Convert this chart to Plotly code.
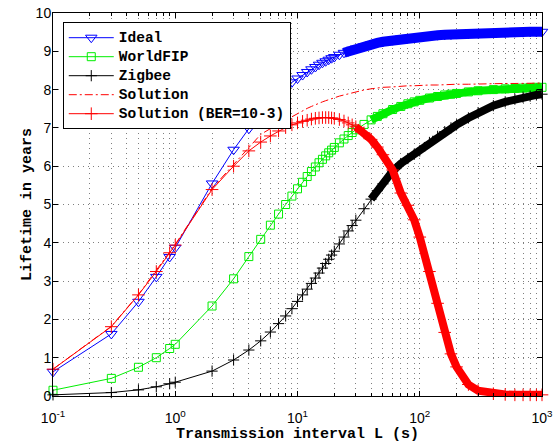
import plotly.graph_objects as go

# Sample points (transmission interval L, seconds)
L = [0.1, 0.3, 0.5, 0.7, 0.9, 1, 2, 3, 4, 5, 6, 7, 8, 9, 10, 11, 12, 13, 14, 15,
     16, 17, 18, 19, 20, 22, 24, 26, 28, 30, 35, 40, 45, 50, 60, 70, 80, 90, 100,
     120, 140, 160, 180, 200, 250, 300, 400, 500, 600, 700, 800, 900, 1000]

ideal = [0.63, 1.62, 2.46, 3.11, 3.63, 3.87, 5.55, 6.43, 6.98, 7.38, 7.66, 7.88, 8.05, 8.19,
         8.29, 8.38, 8.46, 8.53, 8.59, 8.65, 8.70, 8.74, 8.78, 8.82, 8.85, 8.91, 8.96, 9.00,
         9.04, 9.07, 9.13, 9.18, 9.22, 9.25, 9.29, 9.33, 9.35, 9.37, 9.38, 9.41, 9.42, 9.43,
         9.44, 9.45, 9.46, 9.47, 9.48, 9.49, 9.50, 9.50, 9.51, 9.51, 9.51]

worldfip = [0.15, 0.46, 0.75, 1.00, 1.24, 1.35, 2.35, 3.06, 3.64, 4.09, 4.46, 4.75, 5.00, 5.22,
            5.41, 5.58, 5.73, 5.86, 5.98, 6.09, 6.18, 6.27, 6.35, 6.42, 6.49, 6.61, 6.71, 6.80,
            6.88, 6.95, 7.09, 7.21, 7.30, 7.37, 7.48, 7.56, 7.63, 7.68, 7.72, 7.78, 7.82, 7.86,
            7.88, 7.90, 7.94, 7.97, 8.00, 8.02, 8.03, 8.04, 8.05, 8.06, 8.06]

zigbee = [0.03, 0.09, 0.16, 0.24, 0.32, 0.36, 0.65, 0.94, 1.20, 1.44, 1.67, 1.89, 2.09, 2.28,
          2.47, 2.64, 2.79, 2.94, 3.08, 3.21, 3.34, 3.46, 3.57, 3.68, 3.78, 3.97, 4.15, 4.31,
          4.45, 4.59, 4.89, 5.14, 5.36, 5.54, 5.87, 6.07, 6.20, 6.31, 6.40, 6.62, 6.78, 6.90,
          7.00, 7.08, 7.26, 7.40, 7.58, 7.68, 7.75, 7.80, 7.83, 7.86, 7.88]

solution = [0.70, 1.82, 2.65, 3.27, 3.76, 3.96, 5.42, 6.05, 6.50, 6.83, 6.98, 7.10, 7.20, 7.28,
            7.38, 7.45, 7.51, 7.56, 7.61, 7.65, 7.68, 7.71, 7.74, 7.77, 7.79, 7.83, 7.86, 7.89,
            7.92, 7.95, 7.99, 8.02, 8.04, 8.06, 8.07, 8.09, 8.10, 8.10, 8.11, 8.12, 8.12, 8.13,
            8.13, 8.14, 8.14, 8.15, 8.15, 8.16, 8.16, 8.16, 8.17, 8.17, 8.17]

solution_ber = [0.70, 1.81, 2.64, 3.25, 3.74, 3.94, 5.39, 6.00, 6.40, 6.63, 6.79, 6.92, 7.01, 7.08,
                7.13, 7.17, 7.20, 7.23, 7.25, 7.26, 7.27, 7.27, 7.27, 7.26, 7.25, 7.22, 7.18, 7.13,
                7.08, 7.03, 6.87, 6.70, 6.50, 6.30, 5.90, 5.30, 4.98, 4.60, 4.15, 3.25, 2.42, 1.66,
                1.10, 0.76, 0.30, 0.14, 0.06, 0.04, 0.03, 0.03, 0.03, 0.03, 0.03]

x_tickvals = [0.1, 1, 10, 100, 1000]
x_ticktext = ["10<sup>-1</sup>", "10<sup>0</sup>", "10<sup>1</sup>", "10<sup>2</sup>", "10<sup>3</sup>"]
y_tickvals = list(range(0, 11))
minor_vals = [m * 10.0 ** e for e in range(-1, 3) for m in range(2, 10)]

LEG_SPAN = '<span style="font-size:14.5px">{}</span>'

series = [
    ("Ideal", ideal, "#0000ff", "triangle-down-open", 10, 24, 10),
    ("WorldFIP", worldfip, "#00ee00", "square-open", 8, 40, 8),
    ("Zigbee", zigbee, "#000000", "cross-thin-open", 8, 38, 8),
    ("Solution (BER=10-3)", solution_ber, "#ff0000", "cross-thin-open", 9, 30, 8),
]

fig = go.Figure()

def add_series(name, ys, color, symbol, msize, band_start, band_w):
    fig.add_trace(go.Scatter(
        x=L, y=ys, name=LEG_SPAN.format(name), mode="lines+markers",
        line=dict(color=color, width=1),
        marker=dict(symbol=symbol, size=msize, color=color,
                    line=dict(color=color, width=1)),
        cliponaxis=False,
    ))
    idx = [i for i, v in enumerate(L) if v >= band_start]
    fig.add_trace(go.Scatter(
        x=[L[i] for i in idx], y=[ys[i] for i in idx], mode="lines",
        line=dict(color=color, width=band_w), showlegend=False, hoverinfo="skip",
    ))

for s in series[:3]:
    add_series(*s)

fig.add_trace(go.Scatter(
    x=L, y=solution, name=LEG_SPAN.format("Solution"), mode="lines",
    line=dict(color="#ff0000", width=1, dash="8px,3px,2px,3px"),
))

add_series(*series[3])

grid_col = "rgba(0,0,0,0.5)"
grid_dash = "1px,4px"
mono = "Liberation Mono, Courier New, monospace"
sans = "Liberation Sans, Arial, sans-serif"

fig.update_layout(
    template="none",
    width=557, height=443,
    margin=dict(l=53, r=15, t=13, b=47, autoexpand=False),
    paper_bgcolor="white", plot_bgcolor="white",
    showlegend=True,
    legend=dict(
        x=0.02, y=0.976, xanchor="left", yanchor="top",
        bgcolor="white", bordercolor="black", borderwidth=1,
        font=dict(family=mono, size=10, color="black", weight="bold"),
        itemwidth=45, traceorder="normal",
    ),
    font=dict(family=sans, size=14, color="black"),
)

fig.update_xaxes(
    type="log", range=[-1, 3], automargin=False,
    tickmode="array", tickvals=x_tickvals, ticktext=x_ticktext,
    ticks="inside", ticklen=5, tickcolor="black", tickwidth=1,
    showline=True, linecolor="black", linewidth=1, mirror="ticks",
    showgrid=True, gridcolor=grid_col, griddash=grid_dash, gridwidth=1,
    zeroline=False, ticklabelstandoff=9,
    tickfont=dict(family=sans, size=14),
    minor=dict(tickmode="array", tickvals=minor_vals, ticks="inside", ticklen=3,
               tickcolor="black", tickwidth=1,
               showgrid=True, gridcolor=grid_col, griddash=grid_dash, gridwidth=1),
    title=dict(text="Transmission interval L (s)", standoff=0,
               font=dict(family=mono, size=15, weight="bold")),
)

fig.update_yaxes(
    range=[0, 10], automargin=False,
    tickmode="array", tickvals=y_tickvals,
    ticks="inside", ticklen=5, tickcolor="black", tickwidth=1,
    showline=True, linecolor="black", linewidth=1, mirror="ticks",
    showgrid=True, gridcolor=grid_col, griddash=grid_dash, gridwidth=1,
    zeroline=False, ticklabelstandoff=-2,
    tickfont=dict(family=sans, size=14),
    title=dict(text="Lifetime in years", standoff=0,
               font=dict(family=mono, size=15, weight="bold")),
)

fig.write_html(
    "out.html",
    config={"displayModeBar": False},
    post_script="document.body.style.margin='0';document.body.style.overflow='hidden';",
)
